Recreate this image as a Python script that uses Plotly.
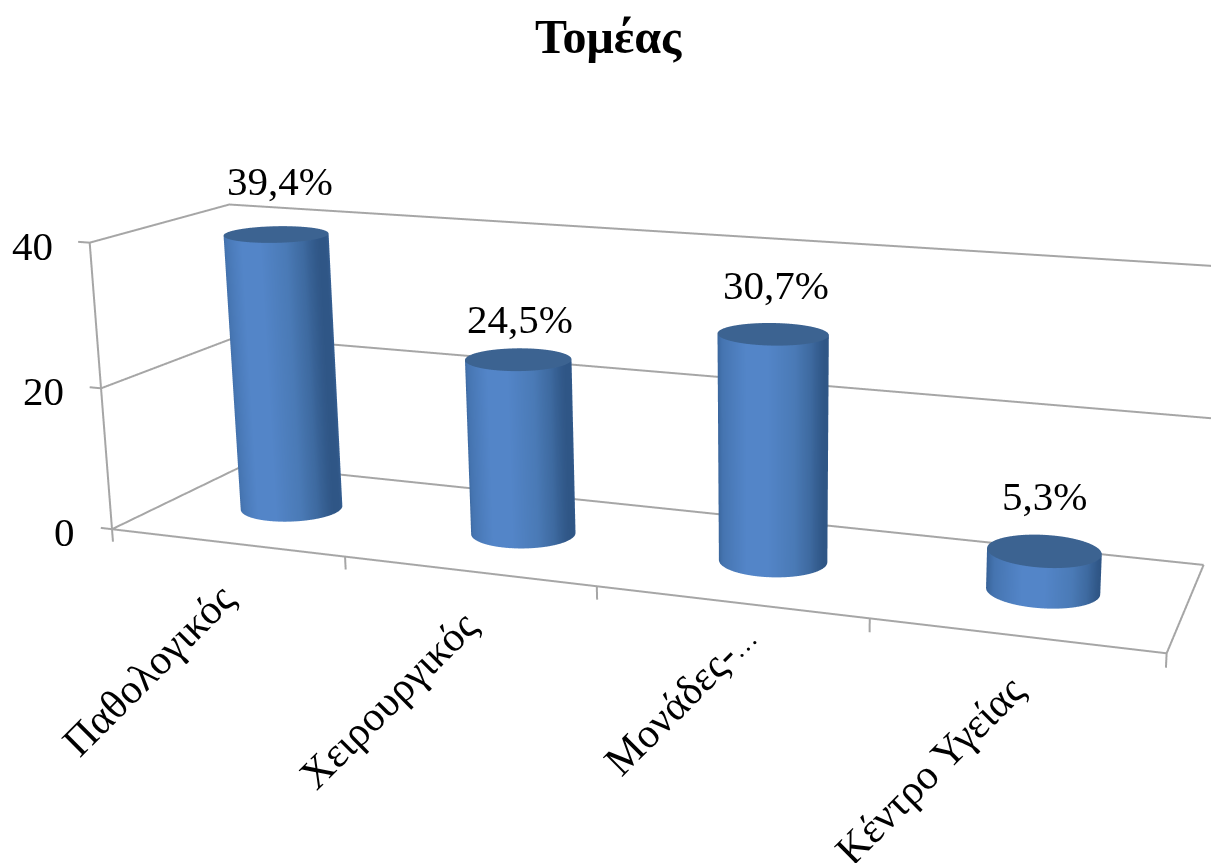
import numpy as np
import plotly.graph_objects as go

categories = ["Παθολογικός", "Χειρουργικός", "Μονάδες-<span style=\"font-size:27px\">…</span>", "Κέντρο Υγείας"]
values = [39.4, 24.5, 30.7, 5.3]
value_labels = ["39,4%", "24,5%", "30,7%", "5,3%"]
z_ticks = [0, 20, 40]
title_text = "Τομέας"

# Scene axis ranges, padded so the frame lines sit clear of the clipping box
XR = (-0.7, 3.7)
YR = (-0.1, 1.1)
ZR = (-3.0, 43.0)
W, H = 1211, 863

# The scene's field of view is fixed, so a longer lens comes from a canvas
# K times the page size, moved so the wanted part fills the window.
K = 2
EYE = (2.2259, -5.3705, 1.5368)
CENTER = (-23.0363, 73.8500, -18.4942)
UP = (-25.3731, 79.2400, 1.0)
ASPECT = (3.4591, 0.8573, 1.0)
AXIS_X_OFFSET, AXIS_Y_OFFSET = 208.3228, -75.8604
ox = K * W / 2 - W / 2 - AXIS_X_OFFSET
oy = K * H / 2 - H / 2 - AXIS_Y_OFFSET

BAR_RX, BAR_RY = 0.2, 0.195
GRID = "#a6a6a6"
CAP = "#3c6391"
scale = [[0, "#345e92"], [0.12, "#4574b0"], [0.4, "#5385c8"], [0.6, "#5385c8"], [0.82, "#4a7ab6"], [0.93, "#3e6aa0"], [1, "#2f5686"]]
flat = dict(ambient=1, diffuse=0, specular=0, fresnel=0, roughness=1)
fig = go.Figure()


def seg(xs, ys, zs):
    fig.add_trace(go.Scatter3d(x=xs, y=ys, z=zs, mode="lines", line=dict(color=GRID, width=4),
                               hoverinfo="skip", showlegend=False))


# Walls, floor outline and tick marks
x0, x1 = -0.5, len(categories) - 0.5
top = max(z_ticks)
for t in z_ticks:
    seg([x0, x0, x1], [0, 1, 1], [t, t, t])
    seg([x0 - 0.05, x0], [0, 0], [t, t])
seg([x0, x0], [0, 0], [0, top])
seg([x0, x1, x1], [0, 0, 1], [0, 0, 0])
for k in range(len(categories) + 1):
    seg([x0 + k, x0 + k], [0, 0], [-1.8, 0])

# One cylinder per category: shaded side plus a flat cap
theta = np.linspace(0, 2 * np.pi, 97)
radial = np.linspace(0, 1, 12)
for i, v in enumerate(values):
    X = i + BAR_RX * np.cos(theta)
    Y = 0.5 + BAR_RY * np.sin(theta)
    fig.add_trace(go.Surface(x=np.array([X, X]), y=np.array([Y, Y]), z=np.array([0 * X, 0 * X + v]),
                             surfacecolor=np.array([np.cos(theta), np.cos(theta)]), cmin=-1, cmax=1,
                             colorscale=scale, showscale=False, lighting=flat, hoverinfo="skip"))
    RR, TT = np.meshgrid(radial, theta)
    fig.add_trace(go.Surface(x=i + BAR_RX * RR * np.cos(TT), y=0.5 + BAR_RY * RR * np.sin(TT), z=0 * RR + v,
                             surfacecolor=0 * RR, cmin=-1, cmax=1,
                             colorscale=[[0, CAP], [1, CAP]], showscale=False, lighting=flat, hoverinfo="skip"))

FONT = "Liberation Serif"
ann = []
value_shift = [(4, 53), (2, 40), (3, 49), (0, 55)]
for i, v in enumerate(values):
    ann.append(dict(x=i, y=0.5, z=v, text=value_labels[i], showarrow=False, xanchor="center", yanchor="middle",
                    xshift=value_shift[i][0], yshift=value_shift[i][1], font=dict(family=FONT, size=41, color="black")))
cat_shift = [(-78, -127), (-80, -129), (-50, -97), (-85, -135)]
for i, name in enumerate(categories):
    ann.append(dict(x=i, y=0, z=0, text=name, showarrow=False, textangle=-45, xanchor="center", yanchor="middle",
                    xshift=cat_shift[i][0], yshift=cat_shift[i][1], font=dict(family=FONT, size=42, color="black")))
for t in z_ticks:
    ann.append(dict(x=x0, y=0, z=t, text=str(t), showarrow=False, xanchor="right", yanchor="middle",
                    xshift=-35, yshift=-3, font=dict(family=FONT, size=41, color="black")))

hidden = dict(visible=False, showgrid=False, zeroline=False, showspikes=False)
fig.update_layout(
    width=K * W, height=K * H, margin=dict(l=0, r=0, t=0, b=0), paper_bgcolor="white", showlegend=False,
    title=dict(text="<b>" + title_text + "</b>", x=(ox + 608) / (K * W), xanchor="center", y=1 - (oy + 36) / (K * H), yanchor="middle",
               font=dict(family=FONT, size=48, color="black")),
    scene=dict(domain=dict(x=[0, 1], y=[0, 1]), bgcolor="white",
               xaxis=dict(range=list(XR), **hidden), yaxis=dict(range=list(YR), **hidden), zaxis=dict(range=list(ZR), **hidden),
               aspectmode="manual", aspectratio=dict(x=ASPECT[0], y=ASPECT[1], z=ASPECT[2]),
               camera=dict(eye=dict(x=EYE[0], y=EYE[1], z=EYE[2]), center=dict(x=CENTER[0], y=CENTER[1], z=CENTER[2]),
                           up=dict(x=UP[0], y=UP[1], z=UP[2]), projection=dict(type="perspective")),
               annotations=ann))

shift_page = f"""
var gd = document.getElementsByClassName('plotly-graph-div')[0];
gd.style.position = 'fixed';
gd.style.left = '{-ox:.1f}px';
gd.style.top = '{-oy:.1f}px';
document.documentElement.style.overflow = 'hidden';
document.body.style.overflow = 'hidden';
"""
fig.write_html("out.html", post_script=shift_page)
